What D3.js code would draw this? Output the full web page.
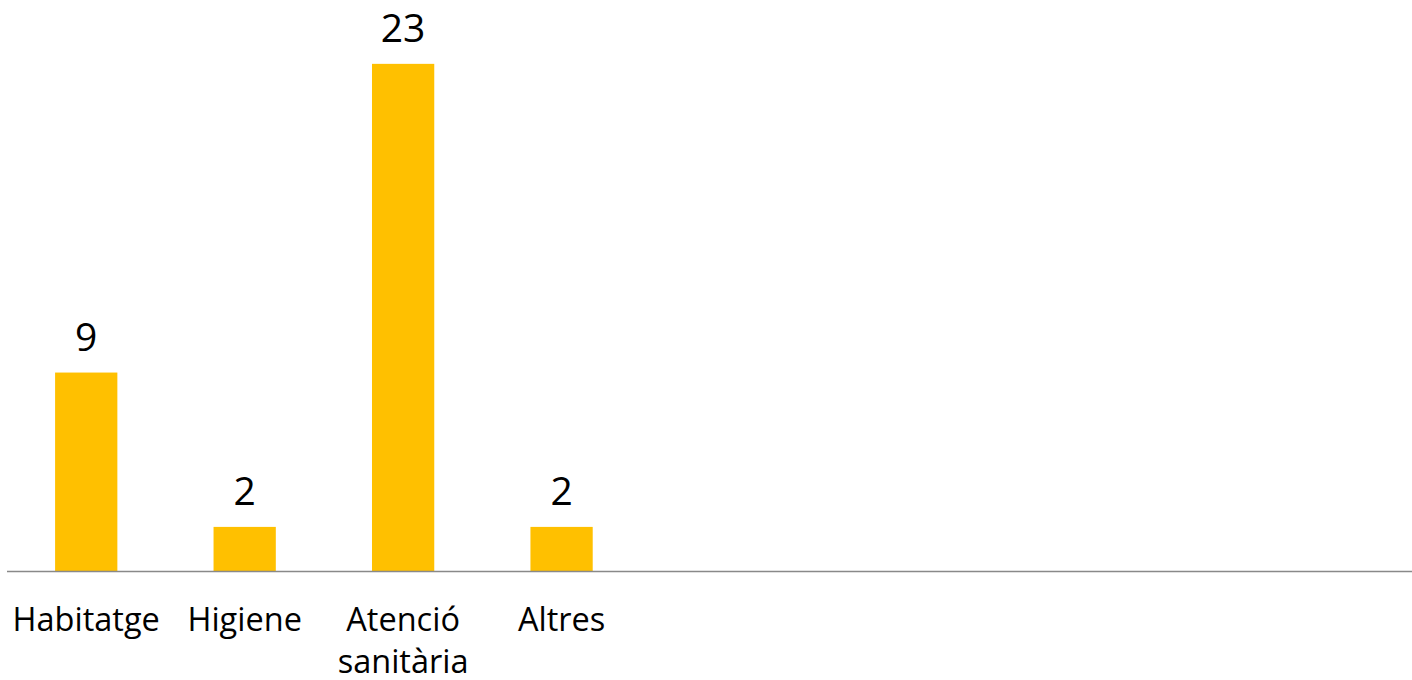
<!DOCTYPE html>
<html lang="ca">
<head>
  <meta charset="UTF-8">
  <title>Gràfic de barres</title>
  <script src="https://d3js.org/d3.v7.min.js"></script>
  <style>
    body { margin: 0; background: #fff; font-family: "Open Sans", sans-serif; }
    svg { display: block; }
  </style>
</head>
<body>
  <div id="chart"></div>
  <script>
    // dades
    const categories = ["Habitatge", "Higiene", "Atenció sanitària", "Altres"];
    const values = [9, 2, 23, 2];

    const width = 1412, height = 680;
    const baseY = 571;
    const step = 158.45;
    const left = 7;

    const svg = d3.select("#chart")
      .append("svg")
      .attr("width", width)
      .attr("height", height);

    const x = d3.scaleBand()
      .domain(categories)
      .range([left, left + step * categories.length])
      .paddingInner(0.607)
      .paddingOuter(0.3035);

    const y = d3.scaleLinear()
      .domain([0, 23])
      .range([baseY, baseY - 23 * 22.05]);

    svg.selectAll(".bar")
      .data(values)
      .enter()
      .append("rect")
      .attr("class", "bar")
      .attr("x", (d, i) => x(categories[i]))
      .attr("y", d => y(d))
      .attr("width", x.bandwidth())
      .attr("height", d => baseY - y(d))
      .attr("fill", "#FFC000");

    svg.selectAll(".val")
      .data(values)
      .enter()
      .append("text")
      .attr("class", "val")
      .attr("x", (d, i) => x(categories[i]) + x.bandwidth() / 2)
      .attr("y", d => y(d) - 22)
      .attr("text-anchor", "middle")
      .attr("font-size", 39)
      .attr("fill", "#000")
      .text(d => d);

    // eix
    svg.append("line")
      .attr("x1", left)
      .attr("x2", width)
      .attr("y1", baseY + 0.5)
      .attr("y2", baseY + 0.5)
      .attr("stroke", "#898989")
      .attr("stroke-width", 1.3);

    const labels = svg.selectAll(".cat")
      .data(categories)
      .enter()
      .append("text")
      .attr("class", "cat")
      .attr("x", d => x(d) + x.bandwidth() / 2)
      .attr("y", 631)
      .attr("text-anchor", "middle")
      .attr("font-size", 32.5)
      .attr("fill", "#000");

    labels.each(function (d) {
      const words = d.split(" ");
      d3.select(this).selectAll("tspan")
        .data(words)
        .enter()
        .append("tspan")
        .attr("x", x(d) + x.bandwidth() / 2)
        .attr("dy", (w, i) => i === 0 ? 0 : 42)
        .text(w => w);
    });
  </script>
</body>
</html>
